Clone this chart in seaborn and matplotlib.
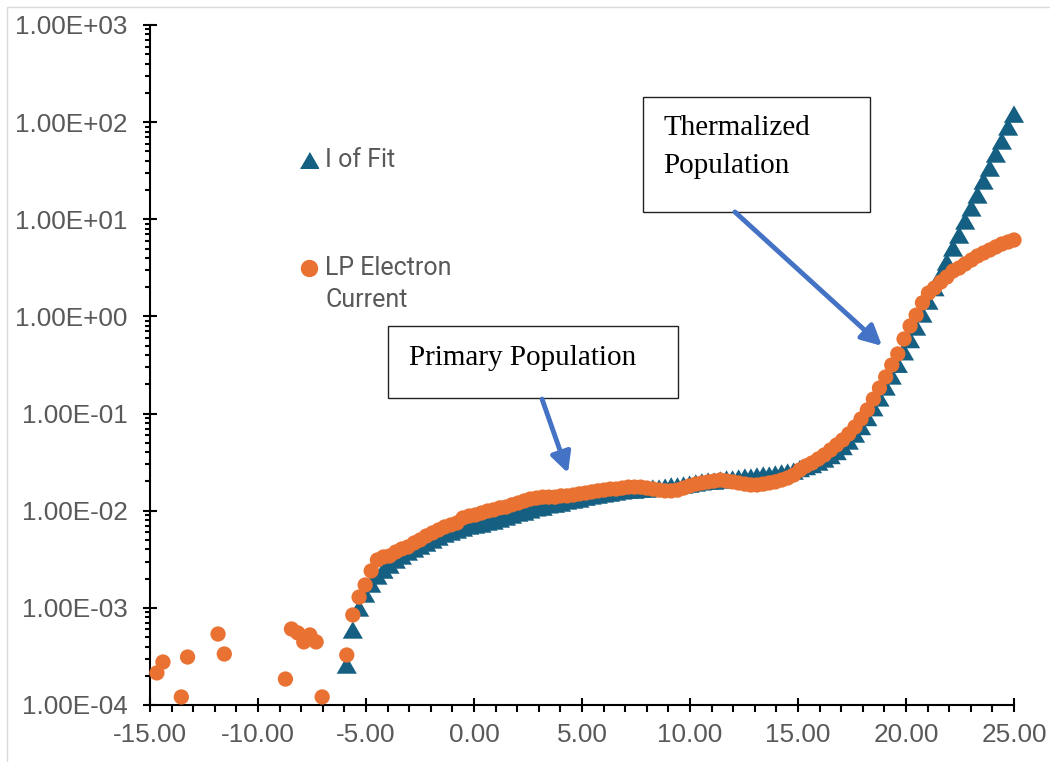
import numpy as np
import matplotlib
matplotlib.use("Agg")
import matplotlib.pyplot as plt
from matplotlib.lines import Line2D
from matplotlib.markers import MarkerStyle
from matplotlib.patches import Rectangle, ArrowStyle
from matplotlib.ticker import (MultipleLocator, LogLocator, NullFormatter,
                               FuncFormatter, FixedLocator)
import seaborn as sns

# ---- probe sweep data -------------------------------------------------------
# Bias voltage of the main sweep (shared by both series)
bias_v = [-5.89, -5.61, -5.32, -5.04, -4.76, -4.47, -4.19, -3.91, -3.62, -3.34,
          -3.06, -2.77, -2.49, -2.21, -1.92, -1.64, -1.36, -1.07, -0.79, -0.51,
          -0.22, 0.06, 0.35, 0.63, 0.91, 1.20, 1.48, 1.76, 2.05, 2.33,
          2.61, 2.90, 3.18, 3.46, 3.75, 4.03, 4.31, 4.60, 4.88, 5.17,
          5.45, 5.73, 6.02, 6.30, 6.58, 6.87, 7.15, 7.43, 7.72, 8.00,
          8.28, 8.57, 8.85, 9.13, 9.42, 9.70, 9.98, 10.27, 10.55, 10.84,
          11.12, 11.40, 11.69, 11.97, 12.25, 12.54, 12.82, 13.10, 13.39, 13.67,
          13.95, 14.24, 14.52, 14.80, 15.09, 15.37, 15.65, 15.94, 16.22, 16.51,
          16.79, 17.07, 17.35, 17.64, 17.92, 18.21, 18.49, 18.77, 19.06, 19.34,
          19.62, 19.91, 20.19, 20.47, 20.76, 21.04, 21.32, 21.61, 21.89, 22.18,
          22.46, 22.74, 23.03, 23.31, 23.59, 23.88, 24.16, 24.44, 24.73, 25.00]

# Two-temperature fit current
fit_i = [2.58e-4, 5.92e-4, 9.97e-4, 1.39e-3, 1.76e-3, 2.13e-3, 2.45e-3, 2.76e-3, 3.11e-3, 3.42e-3,
         3.76e-3, 4.04e-3, 4.33e-3, 4.65e-3, 5.00e-3, 5.36e-3, 5.76e-3, 6.04e-3, 6.33e-3, 6.64e-3,
         6.96e-3, 7.13e-3, 7.30e-3, 7.65e-3, 7.84e-3, 8.22e-3, 8.62e-3, 9.03e-3, 9.47e-3, 9.70e-3,
         1.02e-2, 1.07e-2, 1.09e-2, 1.15e-2, 1.17e-2, 1.20e-2, 1.26e-2, 1.29e-2, 1.32e-2, 1.38e-2,
         1.42e-2, 1.45e-2, 1.49e-2, 1.52e-2, 1.56e-2, 1.60e-2, 1.63e-2, 1.63e-2, 1.67e-2, 1.67e-2,
         1.71e-2, 1.71e-2, 1.75e-2, 1.80e-2, 1.80e-2, 1.84e-2, 1.88e-2, 1.93e-2, 1.98e-2, 2.02e-2,
         2.02e-2, 2.07e-2, 2.12e-2, 2.12e-2, 2.17e-2, 2.22e-2, 2.22e-2, 2.28e-2, 2.33e-2, 2.33e-2,
         2.39e-2, 2.45e-2, 2.50e-2, 2.56e-2, 2.72e-2, 2.85e-2, 2.99e-2, 3.17e-2, 3.41e-2, 3.70e-2,
         4.07e-2, 4.58e-2, 5.22e-2, 6.16e-2, 7.36e-2, 9.11e-2, 0.115, 0.145, 0.188, 0.244,
         0.322, 0.433, 0.578, 0.779, 1.06, 1.44, 1.98, 2.67, 3.64, 5.07,
         6.89, 9.61, 13.1, 17.8, 24.8, 33.7, 47.0, 64.0, 89.2, 121.0]

# Measured Langmuir-probe electron current over the main sweep
lp_main_i = [3.27e-4, 8.45e-4, 1.29e-3, 1.72e-3, 2.40e-3, 3.11e-3, 3.34e-3, 3.42e-3, 3.76e-3, 4.04e-3,
             4.23e-3, 4.65e-3, 5.00e-3, 5.49e-3, 5.90e-3, 6.33e-3, 6.80e-3, 7.13e-3, 7.47e-3, 8.42e-3,
             8.82e-3, 9.03e-3, 9.47e-3, 9.93e-3, 1.02e-2, 1.07e-2, 1.09e-2, 1.15e-2, 1.20e-2, 1.26e-2,
             1.32e-2, 1.35e-2, 1.38e-2, 1.38e-2, 1.38e-2, 1.42e-2, 1.42e-2, 1.45e-2, 1.49e-2, 1.52e-2,
             1.56e-2, 1.60e-2, 1.63e-2, 1.67e-2, 1.67e-2, 1.71e-2, 1.75e-2, 1.75e-2, 1.75e-2, 1.71e-2,
             1.67e-2, 1.63e-2, 1.60e-2, 1.60e-2, 1.63e-2, 1.71e-2, 1.80e-2, 1.88e-2, 1.93e-2, 1.98e-2,
             2.02e-2, 2.07e-2, 2.02e-2, 1.98e-2, 1.93e-2, 1.88e-2, 1.84e-2, 1.84e-2, 1.88e-2, 1.93e-2,
             1.98e-2, 2.07e-2, 2.17e-2, 2.33e-2, 2.63e-2, 2.89e-2, 3.10e-2, 3.41e-2, 3.75e-2, 4.22e-2,
             4.75e-2, 5.35e-2, 6.16e-2, 7.28e-2, 8.80e-2, 0.109, 0.141, 0.183, 0.238, 0.316,
             0.411, 0.586, 0.797, 1.03, 1.38, 1.74, 1.96, 2.26, 2.55, 2.94,
             3.15, 3.47, 3.81, 4.19, 4.50, 4.83, 5.19, 5.57, 5.84, 6.12]

# Noisy low-bias probe readings (only the positive ones can sit on a log axis)
lp_low_v = [-14.68, -14.40, -13.55, -13.26, -11.85, -11.56, -8.73, -8.45, -8.16,
            -7.88, -7.60, -7.31, -7.03]
lp_low_i = [2.14e-4, 2.77e-4, 1.21e-4, 3.12e-4, 5.38e-4, 3.35e-4, 1.85e-4, 6.06e-4, 5.52e-4,
            4.46e-4, 5.26e-4, 4.46e-4, 1.21e-4]

lp_v = lp_low_v + bias_v
lp_i = lp_low_i + lp_main_i

series_labels = ["I of Fit", "LP Electron\nCurrent"]
y_decades = [1e-4, 1e-3, 1e-2, 1e-1, 1e0, 1e1, 1e2, 1e3]

FIT_COLOR = "#156082"
LP_COLOR = "#E97132"
ARROW_COLOR = "#4472C4"
TEXT_GRAY = "#595959"

# ---- figure ------------------------------------------------------------------
sns.set_style("white")
plt.rcParams["font.family"] = ["Liberation Sans", "DejaVu Sans"]

W, H = 1050, 762
fig = plt.figure(figsize=(W / 100, H / 100), dpi=100)
ax = fig.add_axes([150 / W, 1 - 705 / H, 864 / W, 680 / H])

# light chart-area border
fig.add_artist(Rectangle((7 / W, -0.1), 1.2, 1.1 - 7 / H, transform=fig.transFigure,
                         facecolor="none", edgecolor="#D9D9D9", lw=1.0))

# equilateral triangle marker
tri = MarkerStyle([(-1, -0.866), (1, -0.866), (0, 0.866)])

sns.scatterplot(x=bias_v, y=fit_i, ax=ax, marker=tri, s=14.5 ** 2,
                color=FIT_COLOR, linewidth=0, edgecolor="none",
                clip_on=False, zorder=3)
sns.scatterplot(x=lp_v, y=lp_i, ax=ax, marker="o", s=11.0 ** 2,
                color=LP_COLOR, linewidth=0, edgecolor="none",
                clip_on=False, zorder=4)

ax.set_yscale("log")
ax.set_xlim(-15, 25)
ax.set_ylim(1e-4, 1e3)

ax.xaxis.set_major_locator(MultipleLocator(5))
ax.xaxis.set_minor_locator(MultipleLocator(1))
ax.xaxis.set_major_formatter(FuncFormatter(lambda v, p: f"{v:.2f}"))
ax.yaxis.set_major_locator(FixedLocator(y_decades))
ax.yaxis.set_minor_locator(LogLocator(base=10, subs=np.arange(2, 10), numticks=20))
ax.yaxis.set_minor_formatter(NullFormatter())
ax.yaxis.set_major_formatter(FuncFormatter(lambda v, p: f"{v:.2E}"))

for side in ("top", "right"):
    ax.spines[side].set_visible(False)
for side in ("left", "bottom"):
    ax.spines[side].set_color("black")
    ax.spines[side].set_linewidth(1.5)

ax.tick_params(axis="both", which="both", bottom=True, left=True, top=False, right=False)
ax.tick_params(axis="both", which="major", direction="inout", length=10,
               width=1.5, color="black", labelsize=18.8, labelcolor=TEXT_GRAY)
ax.tick_params(axis="x", which="major", pad=8)
ax.tick_params(axis="y", which="major", pad=11)
ax.tick_params(axis="y", which="minor", direction="out", length=3.6,
               width=1.5, color="black")
ax.tick_params(axis="x", which="minor", direction="out", length=5,
               width=1.5, color="black")
ax.set_xlabel("")
ax.set_ylabel("")

# ---- legend (in-plot, two separated entries) --------------------------------
legend_font = ["Roboto", "DejaVu Sans"]
ax.add_line(Line2D([0.184], [0.8015], marker=tri, markersize=13, color=FIT_COLOR,
                   linestyle="none", transform=ax.transAxes, clip_on=False))
ax.text(0.2031, 0.8015, series_labels[0], transform=ax.transAxes, ha="left",
        va="center", fontsize=18, color=TEXT_GRAY, family=legend_font)
ax.add_line(Line2D([0.184], [0.6426], marker="o", markersize=11.5, color=LP_COLOR,
                   linestyle="none", transform=ax.transAxes, clip_on=False))
ax.text(0.2031, 0.6426, series_labels[1].split("\n")[0], transform=ax.transAxes,
        ha="left", va="center", fontsize=18, color=TEXT_GRAY, family=legend_font)
ax.text(0.2031, 0.5956, series_labels[1].split("\n")[1], transform=ax.transAxes,
        ha="left", va="center", fontsize=18, color=TEXT_GRAY, family=legend_font)

# ---- callout boxes with arrows ----------------------------------------------
serif = ["Liberation Serif", "DejaVu Serif"]
ax.add_patch(Rectangle((0.2755, 0.4515), 0.3356, 0.1059, transform=ax.transAxes,
                       facecolor="white", edgecolor="#222222", lw=1.0, zorder=6,
                       clip_on=False))
ax.text(0.2998, 0.500, "Primary Population", transform=ax.transAxes, ha="left",
        va="baseline", fontsize=21, family=serif, color="black", zorder=7)

ax.add_patch(Rectangle((0.5706, 0.7250), 0.2627, 0.1691, transform=ax.transAxes,
                       facecolor="white", edgecolor="#222222", lw=1.0, zorder=6,
                       clip_on=False))
ax.text(0.5938, 0.8382, "Thermalized", transform=ax.transAxes, ha="left",
        va="baseline", fontsize=21, family=serif, color="black", zorder=7)
ax.text(0.5938, 0.7824, "Population", transform=ax.transAxes, ha="left",
        va="baseline", fontsize=21, family=serif, color="black", zorder=7)

arrow_style = ArrowStyle("-|>", head_length=0.55, head_width=0.28)
ax.annotate("", xy=(4.35, 0.0244), xytext=(3.15, 0.141), xycoords="data",
            arrowprops=dict(arrowstyle=arrow_style, color=ARROW_COLOR, lw=3.5,
                            mutation_scale=22, shrinkA=0, shrinkB=0), zorder=8)
ax.annotate("", xy=(18.89, 0.497), xytext=(12.08, 11.9), xycoords="data",
            arrowprops=dict(arrowstyle=arrow_style, color=ARROW_COLOR, lw=3.5,
                            mutation_scale=22, shrinkA=0, shrinkB=0), zorder=8)

fig.savefig("out.png", dpi=100, facecolor="white")
